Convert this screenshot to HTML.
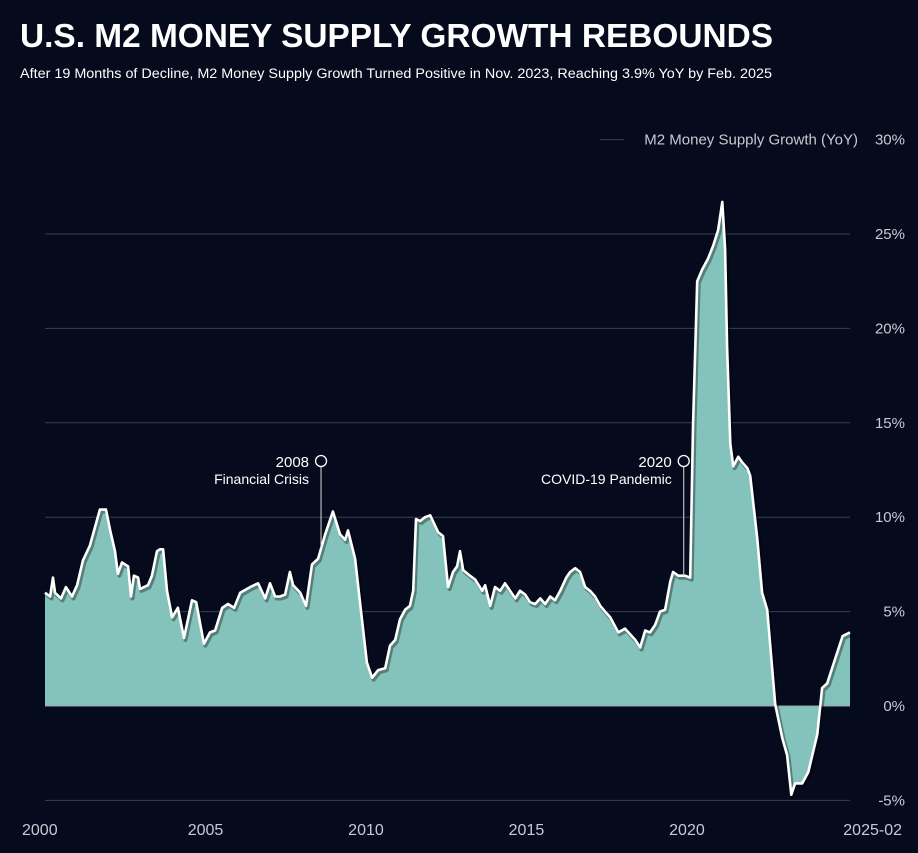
<!DOCTYPE html>
<html><head><meta charset="utf-8">
<style>
body{margin:0;background:#050a1c;width:918px;height:853px;overflow:hidden;font-family:"Liberation Sans",sans-serif;}
svg{display:block}
</style></head>
<body>
<svg id="chart" width="918" height="853" xmlns="http://www.w3.org/2000/svg">
<rect width="918" height="853" fill="#050a1c"/>
<text x="20" y="47" fill="#fff" font-size="33" font-weight="bold" textLength="753" lengthAdjust="spacingAndGlyphs">U.S. M2 MONEY SUPPLY GROWTH REBOUNDS</text>
<text x="20" y="78" fill="#fff" font-size="13.5" textLength="752" lengthAdjust="spacingAndGlyphs">After 19 Months of Decline, M2 Money Supply Growth Turned Positive in Nov. 2023, Reaching 3.9% YoY by Feb. 2025</text>
<g id="grid"></g>
<g id="plot"></g>
<g id="annot"></g>
<g id="axes"></g>
</svg>
<script>
const years=[2000.00,2000.16,2000.25,2000.31,2000.50,2000.65,2000.84,2001.00,2001.18,2001.40,2001.62,2001.71,2001.90,2002.03,2002.18,2002.27,2002.40,2002.59,2002.68,2002.77,2002.90,2002.96,2003.21,2003.33,2003.49,2003.58,2003.68,2003.80,2003.96,2004.14,2004.33,2004.58,2004.71,2004.95,2005.14,2005.30,2005.52,2005.70,2005.89,2006.08,2006.39,2006.64,2006.86,2007.01,2007.17,2007.32,2007.48,2007.63,2007.73,2007.95,2008.13,2008.32,2008.51,2008.73,2008.97,2009.19,2009.35,2009.44,2009.66,2009.82,2010.03,2010.19,2010.38,2010.60,2010.75,2010.91,2011.06,2011.22,2011.37,2011.47,2011.56,2011.69,2011.84,2012.00,2012.25,2012.40,2012.56,2012.71,2012.84,2012.93,2013.03,2013.24,2013.40,2013.62,2013.71,2013.87,2014.02,2014.18,2014.33,2014.49,2014.65,2014.80,2014.96,2015.11,2015.27,2015.43,2015.58,2015.74,2015.89,2016.05,2016.24,2016.36,2016.52,2016.67,2016.83,2016.98,2017.14,2017.30,2017.45,2017.61,2017.86,2018.07,2018.23,2018.39,2018.54,2018.70,2018.85,2019.01,2019.16,2019.32,2019.48,2019.57,2019.73,2019.94,2020.10,2020.19,2020.32,2020.47,2020.66,2020.82,2020.97,2021.10,2021.19,2021.25,2021.35,2021.44,2021.60,2021.72,2021.88,2021.97,2022.19,2022.34,2022.50,2022.75,2022.97,2023.12,2023.25,2023.37,2023.59,2023.78,2024.06,2024.21,2024.37,2024.56,2024.85,2025.08];
const growth=[6.0,5.8,6.8,6.0,5.7,6.3,5.8,6.4,7.7,8.5,9.85,10.4,10.4,9.3,8.2,7.0,7.6,7.4,5.8,6.9,6.8,6.2,6.4,6.9,8.2,8.3,8.3,6.1,4.7,5.2,3.6,5.6,5.5,3.3,3.9,4.0,5.2,5.4,5.2,6.0,6.3,6.5,5.7,6.5,5.8,5.8,5.9,7.1,6.4,6.0,5.3,7.5,7.8,9.1,10.3,9.1,8.8,9.3,7.8,5.4,2.3,1.5,1.9,2.0,3.2,3.5,4.6,5.1,5.3,6.1,9.9,9.8,10.0,10.1,9.2,9.0,6.3,7.1,7.4,8.2,7.2,6.9,6.7,6.1,6.4,5.3,6.3,6.1,6.5,6.1,5.7,6.1,5.9,5.5,5.4,5.7,5.4,5.8,5.6,6.1,6.8,7.1,7.3,7.1,6.3,6.1,5.8,5.3,5.0,4.7,3.9,4.1,3.8,3.5,3.1,4.0,3.9,4.3,5.0,5.1,6.6,7.1,6.9,6.9,6.8,14.8,22.5,23.1,23.7,24.4,25.2,26.7,24.2,19.0,13.9,12.7,13.2,12.9,12.6,12.2,8.9,6.0,5.1,0.1,-1.7,-2.6,-4.7,-4.1,-4.1,-3.5,-1.5,0.95,1.2,2.2,3.7,3.9];
const yTicks=[-5,0,5,10,15,20,25,30];
const yTickLabels=["-5%","0%","5%","10%","15%","20%","25%","30%"];
const xTicks=[2000,2005,2010,2015,2020,2025.08];
const xTickLabels=["2000","2005","2010","2015","2020","2025-02"];
const annYears=[2008.6,2019.9];
const annTop=["2008","2020"];
const annBottom=["Financial Crisis","COVID-19 Pandemic"];

const NS="http://www.w3.org/2000/svg";
const X0=45,X1=850,Y0=706,PPU=18.88;
function xs(y){return X0+(y-2000)/(2025.08-2000)*(X1-X0);}
function ys(v){return Y0-v*PPU;}
function mk(tag,attrs,parent){const e=document.createElementNS(NS,tag);for(const k in attrs)e.setAttribute(k,attrs[k]);parent.appendChild(e);return e;}
const grid=document.getElementById('grid'),plot=document.getElementById('plot'),annot=document.getElementById('annot'),axes=document.getElementById('axes');

yTicks.forEach((t,i)=>{
  if(t!==0&&t!==30){const l=mk('line',{x1:X0,x2:X1,y1:ys(t),y2:ys(t),stroke:'#3a3f52','stroke-width':1},grid);
  
  }
  const tx=mk('text',{x:905,y:ys(t)+5,fill:'#c8cad2','font-size':15,'text-anchor':'end'},axes);
  tx.textContent=yTickLabels[i];
  
  
});
const gl30=mk('line',{x1:600,x2:624,y1:ys(30),y2:ys(30),stroke:'#3a3f52','stroke-width':1},grid);


const yt=mk('text',{x:858,y:ys(30)+5,fill:'#c8cad2','font-size':15,'text-anchor':'end'},axes);
yt.textContent='M2 Money Supply Growth (YoY)';


xTicks.forEach((t,i)=>{
  const tx=mk('text',{x:xs(t),y:835,fill:'#c8cad2','font-size':16,'text-anchor':i===0?'start':(i===xTicks.length-1?'end':'middle')},axes);
  tx.textContent=xTickLabels[i];
  if(i===0)tx.setAttribute('x',22);
  if(i===xTicks.length-1)tx.setAttribute('x',902);
  
  
});
let d='M'+xs(years[0])+','+ys(0);
years.forEach((y,i)=>{d+=' L'+xs(y).toFixed(1)+','+ys(growth[i]).toFixed(1);});
d+=' L'+xs(years[years.length-1])+','+ys(0)+' Z';
const area=mk('path',{d:d,fill:'#84c3bb'},plot);


const zl=mk('line',{x1:X0,x2:X1,y1:Y0,y2:Y0,stroke:'#9aa0ad','stroke-width':1},plot);


let ld='';
years.forEach((y,i)=>{ld+=(i?' L':'M')+xs(y).toFixed(1)+','+ys(growth[i]).toFixed(1);});
const sh=mk('path',{d:ld,fill:'none',stroke:'rgba(0,0,0,0.35)','stroke-width':4,transform:'translate(1.5,2)','stroke-linejoin':'round'},plot);


const line=mk('path',{d:ld,fill:'none',stroke:'#fff','stroke-width':2.6,'stroke-linejoin':'round'},plot);



annYears.forEach((ay,i)=>{
  const x=xs(ay);
  let v=0;for(let j=1;j<years.length;j++){if(years[j]>=ay){const f=(ay-years[j-1])/(years[j]-years[j-1]);v=growth[j-1]+f*(growth[j]-growth[j-1]);break;}}
  const l=mk('line',{x1:x,x2:x,y1:467,y2:ys(v),stroke:'#ddd','stroke-width':1},annot);
  
  
  const c=mk('circle',{cx:x,cy:461,r:5.5,fill:'#050a1c',stroke:'#fff','stroke-width':1.3},annot);
  
  
  const t1=mk('text',{x:x-12,y:467,fill:'#fff','font-size':15,'text-anchor':'end'},annot);
  t1.textContent=annTop[i];
  
  
  const t2=mk('text',{x:x-12,y:484,fill:'#fff','font-size':14,'text-anchor':'end'},annot);
  t2.textContent=annBottom[i];
  
  
});
</script>
</body></html>
